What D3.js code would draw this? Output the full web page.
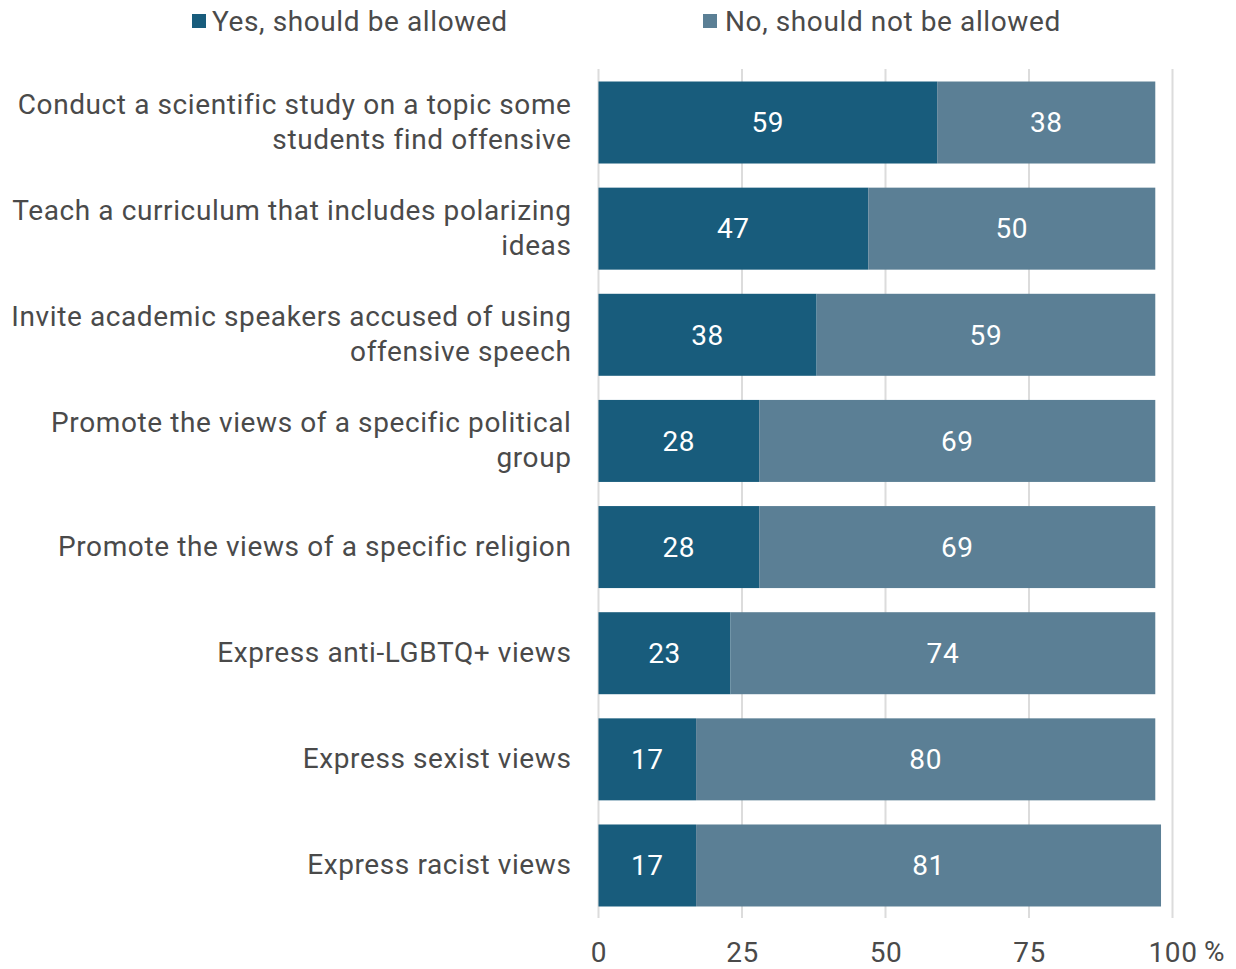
<!DOCTYPE html>
<html>
<head>
<meta charset="utf-8">
<script src="https://cdn.jsdelivr.net/npm/d3@7"></script>
<style>
  html, body { margin: 0; padding: 0; background: #fff; }
  svg { display: block; font-family: Roboto, "Noto Sans", sans-serif; }
</style>
</head>
<body>
<svg id="chart" width="1236" height="969"></svg>
<script>
// Survey items (one label line per array entry)
const categories = [
  ["Conduct a scientific study on a topic some", "students find offensive"],
  ["Teach a curriculum that includes polarizing", "ideas"],
  ["Invite academic speakers accused of using", "offensive speech"],
  ["Promote the views of a specific political", "group"],
  ["Promote the views of a specific religion"],
  ["Express anti-LGBTQ+ views"],
  ["Express sexist views"],
  ["Express racist views"]
];
const yesValues = [59, 47, 38, 28, 28, 23, 17, 17];
const noValues  = [38, 50, 59, 69, 69, 74, 80, 81];
const seriesNames = ["Yes, should be allowed", "No, should not be allowed"];
const tickValues = [0, 25, 50, 75, 100];

const colors = ["#185c7c", "#5b7f95"];
const textColor = "#4a4a4a";
const fontSize = 28;
const spacing = "0.6px";

const svg = d3.select("#chart");

const x = d3.scaleLinear().domain([0, 100]).range([598.5, 1172.5]);
const y = d3.scaleBand()
  .domain(d3.range(categories.length))
  .range([71, 917])
  .paddingInner(0.2274)
  .paddingOuter(0.099);

// Vertical gridlines
svg.append("g")
  .selectAll("line")
  .data(tickValues)
  .join("line")
  .attr("x1", d => x(d)).attr("x2", d => x(d))
  .attr("y1", 69).attr("y2", 918)
  .attr("stroke", "#dcdcdc")
  .attr("stroke-width", 2);

// Stacked bars
const rows = categories.map((c, i) => ({ i, yes: yesValues[i], no: noValues[i] }));
const stack = d3.stack().keys(["yes", "no"])(rows);

const layers = svg.append("g").selectAll("g")
  .data(stack)
  .join("g")
  .attr("fill", (d, k) => colors[k]);

layers.selectAll("rect")
  .data(d => d)
  .join("rect")
  .attr("x", d => x(d[0]))
  .attr("width", d => x(d[1]) - x(d[0]))
  .attr("y", d => y(d.data.i))
  .attr("height", y.bandwidth());

// Value labels inside segments
layers.selectAll("text")
  .data(d => d)
  .join("text")
  .attr("x", d => (x(d[0]) + x(d[1])) / 2)
  .attr("y", d => y(d.data.i) + y.bandwidth() / 2)
  .attr("dy", "0.35em")
  .attr("text-anchor", "middle")
  .attr("fill", "#ffffff")
  .attr("font-size", fontSize)
  .attr("letter-spacing", spacing)
  .text(d => d[1] - d[0]);

// Category labels
const lineHeight = 35;
const labels = svg.append("g").selectAll("text")
  .data(categories)
  .join("text")
  .attr("text-anchor", "end")
  .attr("fill", textColor)
  .attr("font-size", fontSize)
  .attr("letter-spacing", spacing)
  .attr("y", (d, i) => y(i) + y.bandwidth() / 2 - (d.length - 1) * lineHeight / 2 - 1);

labels.selectAll("tspan")
  .data(d => d)
  .join("tspan")
  .attr("x", 571.5)
  .attr("dy", (d, j) => j === 0 ? "0.35em" : lineHeight)
  .text(d => d);

// X axis tick labels
const axis = d3.axisBottom(x).tickValues(tickValues).tickSize(0).tickPadding(0);
const axisG = svg.append("g")
  .attr("transform", "translate(0,942)")
  .call(axis);
axisG.select(".domain").remove();
axisG.selectAll("text")
  .attr("font-family", "Roboto, sans-serif")
  .attr("font-size", fontSize)
  .attr("letter-spacing", spacing)
  .attr("fill", textColor);

svg.append("text")
  .attr("x", 1204)
  .attr("y", 961)
  .attr("font-size", fontSize)
  .attr("fill", textColor)
  .text("%");

// Legend
const legendX = [192, 703];
const legend = svg.append("g").selectAll("g")
  .data(seriesNames)
  .join("g")
  .attr("transform", (d, i) => `translate(${legendX[i]},0)`);
legend.append("rect")
  .attr("x", 0).attr("y", 14)
  .attr("width", 14).attr("height", 14)
  .attr("fill", (d, i) => colors[i]);
legend.append("text")
  .attr("x", (d, i) => i === 0 ? 20 : 22)
  .attr("y", 31)
  .attr("font-size", fontSize)
  .attr("letter-spacing", spacing)
  .attr("fill", textColor)
  .text(d => d);
</script>
</body>
</html>
